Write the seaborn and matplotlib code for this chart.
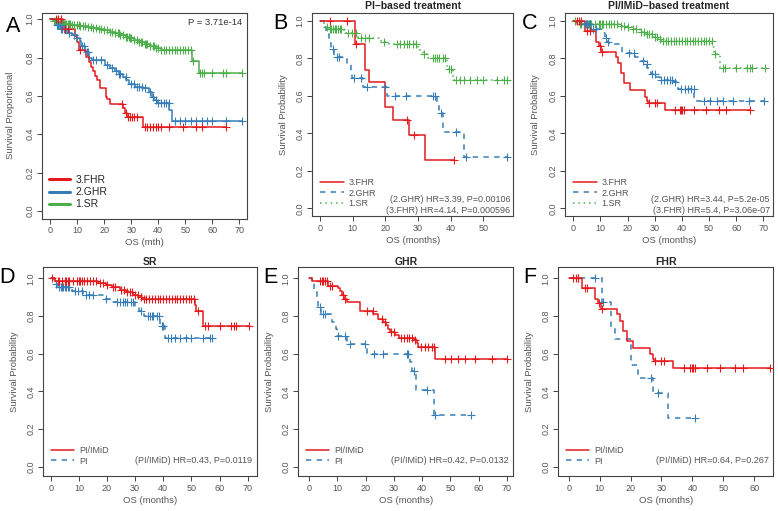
import numpy as np
import pandas as pd
import matplotlib
matplotlib.use('Agg')
import matplotlib.pyplot as plt
from matplotlib.lines import Line2D
import seaborn as sns

sns.set_style('white')
plt.rcParams['font.family'] = ['Liberation Sans', 'DejaVu Sans']

RED = '#E41A1C'
BLUE = '#377EB8'
GREEN = '#4DAF4A'
GREY = '#555555'

#%% survival step data (time of drop, survival after drop), end of follow-up, censor times
# panel A - whole cohort by risk group
a_fhr_t = [0, 4.8, 9.2, 10.1, 10.8, 13.3, 14.2, 15.0, 15.8, 16.6, 17.5, 18.5, 20.5, 21.2, 22.2, 27.1, 27.7, 28.3, 34.5]
a_fhr_s = [1, 0.95, 0.91, 0.88, 0.84, 0.805, 0.775, 0.753, 0.732, 0.704, 0.683, 0.639, 0.596, 0.582, 0.556, 0.535, 0.512, 0.491, 0.436]
a_fhr_end = 65
a_fhr_c = [2, 3, 4, 5.5, 6.5, 11, 26.5, 27.9, 28.8, 29.5, 30.3, 31, 32, 35, 36, 37, 38, 39, 40, 41, 44, 49, 54, 56, 65]

a_ghr_t = [0, 1.8, 3.7, 6.2, 8.0, 9.9, 11.1, 11.5, 13.0, 14.2, 15.4, 20.3, 22.2, 24.0, 25.3, 27.1, 28.1, 29.0, 31.4, 34.5, 36.7, 37.6, 38.5, 39.4, 44.1, 45.0]
a_ghr_s = [1, 0.97, 0.95, 0.93, 0.915, 0.90, 0.885, 0.86, 0.83, 0.80, 0.787, 0.76, 0.745, 0.73, 0.714, 0.697, 0.685, 0.662, 0.648, 0.64, 0.622, 0.596, 0.58, 0.564, 0.526, 0.47]
a_ghr_end = 71
a_ghr_c = [2.5, 3, 3.5, 4, 4.5, 5, 5.5, 7, 9, 10, 11.8, 12.5, 13.5, 14, 16, 17, 19, 21, 23, 24.5, 25.5, 26,
           28, 30, 31, 32, 33, 34, 35, 37, 38, 39, 40, 41, 42, 43, 44, 46, 48, 50, 52, 54, 56, 58, 60, 65, 71]

a_sr_t = [0, 1, 3, 5, 8, 11, 14, 16, 18, 20, 22, 24, 26, 28, 29.5, 31, 33, 35, 37, 39, 41, 52.5, 55.2]
a_sr_s = [1, 0.99, 0.98, 0.975, 0.97, 0.965, 0.96, 0.955, 0.95, 0.943, 0.935, 0.927, 0.918, 0.908, 0.90, 0.89, 0.88, 0.87, 0.86, 0.85, 0.84, 0.78, 0.72]
a_sr_end = 71
a_sr_c = [1.5, 2.5, 3, 3.5, 4, 4.5, 5, 5.5, 6, 6.5, 7, 7.5, 8, 9, 10, 10.5, 11, 12, 13, 14, 15, 16, 17, 18, 19, 20,
          21, 22, 23, 24, 25, 25.5, 26, 27, 28, 28.5, 29, 29.5, 30, 31, 32, 33, 33.5, 34, 35, 35.5, 36, 37, 38,
          38.5, 39, 40, 41, 42, 43, 44, 45, 46, 47, 48, 49, 50, 51, 52, 53, 55.5, 56, 57, 60, 64, 65, 71]

# PI-based treatment
pi_fhr_t = [0, 10.6, 13.8, 14.9, 20.0, 22.5, 27.2, 32.2]
pi_fhr_s = [1, 0.875, 0.74, 0.676, 0.54, 0.47, 0.39, 0.26]
pi_fhr_end = 41
pi_fhr_c = [3.0, 8.4, 11.0, 26.5, 28.8, 41]

pi_ghr_t = [0, 1.2, 1.9, 2.7, 3.3, 4.2, 8.2, 9.4, 9.9, 13.3, 20.4, 35.7, 36.3, 37.7, 44.2]
pi_ghr_s = [1, 0.97, 0.93, 0.88, 0.85, 0.81, 0.77, 0.73, 0.695, 0.65, 0.60, 0.555, 0.51, 0.41, 0.275]
pi_ghr_end = 57.3
pi_ghr_c = [3.9, 5.1, 5.7, 10.4, 12.7, 14.5, 19.8, 23.1, 26.3, 34.5, 35.1, 37.2, 41.6, 44.6, 57.3]

pi_sr_t = [0, 1.2, 2.5, 7.5, 11.6, 18.7, 21.1, 30.0, 30.6, 31.5, 33.2, 38.8, 40.6]
pi_sr_s = [1, 0.97, 0.955, 0.935, 0.91, 0.89, 0.875, 0.855, 0.84, 0.825, 0.80, 0.745, 0.685]
pi_sr_end = 57.3
pi_sr_c = [2.0, 3.0, 3.5, 4.0, 4.5, 5.0, 5.5, 6.0, 6.5, 8.6, 9.8, 11.0, 12.5, 13.7, 15.0, 19.6, 23.7, 24.5,
           25.8, 26.5, 27.2, 28.6, 29.4, 32.0, 34.7, 35.3, 35.9, 36.5, 37.6, 38.4, 39.4, 40.0, 41.7, 42.9,
           44.1, 45.8, 48.2, 50.0, 54.1, 56.5, 57.3]

# PI/IMiD-based treatment
im_fhr_t = [0, 4.4, 8.4, 9.5, 10.3, 15.7, 16.5, 17.6, 18.7, 20.9, 26.3, 27.1, 27.5, 33.8]
im_fhr_s = [1, 0.948, 0.89, 0.867, 0.837, 0.81, 0.775, 0.72, 0.668, 0.63, 0.597, 0.571, 0.56, 0.527]
im_fhr_end = 65.1
im_fhr_c = [1.2, 2.2, 3.0, 5.2, 6.0, 9.9, 10.6, 27.9, 30, 30.8, 37.3, 39.3, 39.8, 40.2, 40.9, 44.6, 49,
            53.8, 56.3, 65.1]

im_ghr_t = [0, 0.9, 6.6, 10.4, 11.0, 11.8, 12.5, 13.3, 18.0, 22.7, 24.5, 26.3, 27.2, 28.0, 28.6, 30.4, 31.8,
            37.2, 38.1, 38.6, 44.5]
im_ghr_s = [1, 0.984, 0.957, 0.947, 0.934, 0.91, 0.89, 0.876, 0.828, 0.81, 0.785, 0.77, 0.75, 0.73, 0.716,
            0.70, 0.686, 0.675, 0.655, 0.636, 0.571]
im_ghr_end = 70.2
im_ghr_c = [3.9, 4.5, 5.1, 5.7, 6.2, 7.4, 8.2, 12.0, 12.9, 20.5, 22.5, 25.8, 27.0, 29.0, 30.0, 32.5, 33.5,
            34.5, 35.5, 36.5, 37.5, 39.8, 41.0, 42.2, 43.4, 44.3, 48.1, 50.4, 52.8, 55.1, 58.7, 64.6, 70.2]

im_sr_t = [0, 1.4, 16.8, 19.8, 21.6, 24.5, 26.9, 29.3, 31.1, 32.3, 51.2, 51.8, 54.2]
im_sr_s = [1, 0.984, 0.975, 0.966, 0.955, 0.94, 0.928, 0.914, 0.902, 0.893, 0.861, 0.826, 0.747]
im_sr_end = 70.5
im_sr_c = [0.5, 2.5, 3, 4, 5, 5.5, 6, 6.5, 8, 9.5, 10, 10.5, 11, 12, 13, 14, 15, 16, 17.5, 18.5, 20, 22, 23,
           25, 26, 27, 28, 29, 30, 31, 32, 33, 34, 35, 36, 37, 38, 39, 40, 41, 42, 43, 44, 45, 46, 47, 48,
           49, 50, 51, 52.2, 55, 56, 60, 64, 65, 66, 70.5]

#%%
def km_frames(t, s, end, cens):
    line = pd.DataFrame({'time': list(t) + [end], 'surv': list(s) + [s[-1]]})
    idx = np.searchsorted(t, cens, side='right') - 1
    marks = pd.DataFrame({'time': cens, 'surv': np.asarray(s)[idx]})
    return line, marks


def draw_km(ax, t, s, end, cens, color, ls='-', lw=1.1):
    line, marks = km_frames(t, s, end, cens)
    sns.lineplot(data=line, x='time', y='surv', ax=ax, color=color, linestyle=ls, lw=lw,
                 drawstyle='steps-post', estimator=None, sort=False)
    sns.scatterplot(data=marks, x='time', y='surv', ax=ax, color=color, marker='+', s=28,
                    linewidth=0.8, zorder=3)


def style_ax(ax, xlim, ylim, xticks, ylab, xlab, ylab_x):
    ax.set_xlim(xlim)
    ax.set_ylim(ylim)
    ax.set_xticks(xticks)
    ax.set_xticklabels([str(v) for v in xticks])
    ax.set_yticks([0, 0.2, 0.4, 0.6, 0.8, 1.0])
    ax.set_yticklabels(['0.0', '0.2', '0.4', '0.6', '0.8', '1.0'], rotation=90, va='center')
    ax.tick_params(direction='out', length=3.6, width=0.7, color='#444444', labelcolor=GREY,
                   labelsize=6.5, pad=2, left=True, bottom=True)
    for sp in ax.spines.values():
        sp.set_visible(True)
        sp.set_color('#444444')
        sp.set_linewidth(0.8)
    ax.set_xlabel(xlab, fontsize=6.8, color=GREY, labelpad=2)
    ax.set_ylabel(ylab, fontsize=6.8, color=GREY)
    ax.yaxis.set_label_coords(ylab_x, 0.5)


W, H = 778, 511
fig = plt.figure(figsize=(W / 100, H / 100), dpi=100)


def add_ax(l, r, t, b):
    return fig.add_axes([l / W, 1 - b / H, (r - l) / W, (b - t) / H])


axA = add_ax(42, 247, 12.5, 218.5)
axB = add_ax(312.3, 513.3, 13.5, 216)
axC = add_ax(565, 773, 13.5, 216)
axD = add_ax(43.3, 256.7, 267, 476)
axE = add_ax(298.3, 513.3, 267, 476)
axF = add_ax(558.3, 773.3, 267, 476)

ylim_top = (-0.04, 1.04)
ylim_bot = (-0.048, 1.06)

#%% A
draw_km(axA, a_sr_t, a_sr_s, a_sr_end, a_sr_c, GREEN)
draw_km(axA, a_ghr_t, a_ghr_s, a_ghr_end, a_ghr_c, BLUE)
draw_km(axA, a_fhr_t, a_fhr_s, a_fhr_end, a_fhr_c, RED)
style_ax(axA, (-3.0, 72.8), (-0.04, 1.035), list(range(0, 71, 10)), 'Survival Proportional', 'OS (mth)', -0.13)
axA.text(0.975, 0.95, 'P = 3.71e-14', transform=axA.transAxes, ha='right', va='center', fontsize=6.8, color='#333333')
hA = [Line2D([], [], color=RED, lw=2.2), Line2D([], [], color=BLUE, lw=2.2), Line2D([], [], color=GREEN, lw=2.2)]
axA.legend(hA, ['3.FHR', '2.GHR', '1.SR'], loc='lower left', bbox_to_anchor=(0.035, 0.045), frameon=False,
           fontsize=7.5, handlelength=2.0, handletextpad=0.5, labelspacing=0.2, borderpad=0, borderaxespad=0)

#%% B
draw_km(axB, pi_sr_t, pi_sr_s, pi_sr_end, pi_sr_c, GREEN, ls=(0, (1, 2.5)))
draw_km(axB, pi_ghr_t, pi_ghr_s, pi_ghr_end, pi_ghr_c, BLUE, ls=(0, (3.5, 3.5)))
draw_km(axB, pi_fhr_t, pi_fhr_s, pi_fhr_end, pi_fhr_c, RED)
style_ax(axB, (-2.36, 59.2), ylim_top, list(range(0, 51, 10)), 'Survival Probability', 'OS (months)', -0.12)
axB.set_title('PI\u2013based treatment', fontsize=7.5, fontweight='bold', pad=3)

#%% C
draw_km(axC, im_sr_t, im_sr_s, im_sr_end, im_sr_c, GREEN, ls=(0, (1, 2.5)))
draw_km(axC, im_ghr_t, im_ghr_s, im_ghr_end, im_ghr_c, BLUE, ls=(0, (3.5, 3.5)))
draw_km(axC, im_fhr_t, im_fhr_s, im_fhr_end, im_fhr_c, RED)
style_ax(axC, (-3.07, 73.6), ylim_top, list(range(0, 71, 10)), 'Survival Probability', 'OS (months)', -0.12)
axC.set_title('PI/IMiD\u2013based treatment', fontsize=7.5, fontweight='bold', pad=3)

hBC = [Line2D([], [], color=RED, lw=1.1), Line2D([], [], color=BLUE, lw=1.1, ls=(0, (3.5, 3.5))),
       Line2D([], [], color=GREEN, lw=1.1, ls=(0, (1, 2.5)))]
hr_bc = {axB: ['(2.GHR) HR=3.39, P=0.00106', '(3.FHR) HR=4.14, P=0.000596'],
         axC: ['(2.GHR) HR=3.44, P=5.2e-05', '(3.FHR) HR=5.4, P=3.06e-07']}
for ax in (axB, axC):
    ax.legend(hBC, ['3.FHR', '2.GHR', '1.SR'], loc='lower left', bbox_to_anchor=(0.04, 0.04), frameon=False,
              fontsize=6.5, labelcolor=GREY, handlelength=2.6, handletextpad=0.5, labelspacing=0.15,
              borderpad=0, borderaxespad=0)
    ax.text(0.985, 0.08, hr_bc[ax][0], transform=ax.transAxes, ha='right', va='center', fontsize=6.5, color=GREY)
    ax.text(0.985, 0.025, hr_bc[ax][1], transform=ax.transAxes, ha='right', va='center', fontsize=6.5, color=GREY)

#%% D E F
bottom = [
    (axD, 'SR', (pi_sr_t, pi_sr_s, pi_sr_end, pi_sr_c), (im_sr_t, im_sr_s, im_sr_end, im_sr_c),
     (-2.64, 73.2), list(range(0, 71, 10)), '(PI/IMiD) HR=0.43, P=0.0119'),
    (axE, 'GHR', (pi_ghr_t, pi_ghr_s, pi_ghr_end, pi_ghr_c), (im_ghr_t, im_ghr_s, im_ghr_end, im_ghr_c),
     (-3.8, 72.3), list(range(0, 71, 10)), '(PI/IMiD) HR=0.42, P=0.0132'),
    (axF, 'FHR', (pi_fhr_t, pi_fhr_s, pi_fhr_end, pi_fhr_c), (im_fhr_t, im_fhr_s, im_fhr_end, im_fhr_c),
     (-3.4, 66.2), list(range(0, 61, 10)), '(PI/IMiD) HR=0.64, P=0.267'),
]
hDEF = [Line2D([], [], color=RED, lw=1.1), Line2D([], [], color=BLUE, lw=1.1, ls=(0, (3.5, 3.5)))]
for ax, title, pi_d, im_d, xl, xt, hr in bottom:
    draw_km(ax, *pi_d, BLUE, ls=(0, (3.5, 3.5)))
    draw_km(ax, *im_d, RED)
    style_ax(ax, xl, ylim_bot, xt, 'Survival Probability', 'OS (months)', -0.115)
    ax.set_title(title, fontsize=7.5, fontweight='bold', pad=1.5)
    ax.legend(hDEF, ['PI/IMiD', 'PI'], loc='lower left', bbox_to_anchor=(0.035, 0.05), frameon=False,
              fontsize=6.5, labelcolor=GREY, handlelength=2.6, handletextpad=0.5, labelspacing=0.15,
              borderpad=0, borderaxespad=0)
    ax.text(0.978, 0.072, hr, transform=ax.transAxes, ha='right', va='center', fontsize=6.5, color=GREY)

#%% panel letters
for letter, x, y in [('A', 13, 26), ('B', 280, 23.5), ('C', 530, 23.5), ('D', 7, 277.5), ('E', 270, 277),
                     ('F', 530, 277)]:
    fig.text(x / W, 1 - y / H, letter, fontsize=15.5, ha='center', va='center', color='black')

fig.savefig('out.png', dpi=100)
